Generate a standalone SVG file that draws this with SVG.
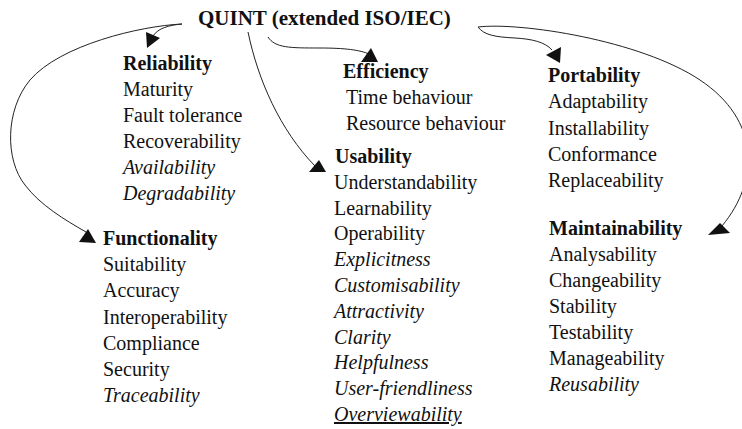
<svg xmlns="http://www.w3.org/2000/svg" width="742" height="429" viewBox="0 0 742 429">
<style>
text{font-family:"Liberation Serif","Times New Roman",serif;font-size:20px;fill:#111}
.h{font-weight:bold}
.i{font-style:italic}
.t{font-weight:bold;font-size:21px}
.c{fill:none;stroke:#222;stroke-width:1}
.a{fill:#111;stroke:none}
</style>
<rect width="742" height="429" fill="#fff"/>
<g id="connectors">
<path class="c" d="M182,24 C170,25 158,28 153,36"/>
<polygon class="a" points="146,32 160,38 147,48"/>
<path class="c" d="M182,24 C140,26 60,45 30,80 C5,110 5,160 25,185 C40,205 65,220 86,232"/>
<polygon class="a" points="79,242 88,229 96,243"/>
<path class="c" d="M248,32 C258,80 280,130 315,166"/>
<polygon class="a" points="309,172 319,160 326,172"/>
<path class="c" d="M268,37 C275,48 290,48 320,48 C345,48 360,50 369,54"/>
<polygon class="a" points="361,62 371,48 378,62"/>
<path class="c" d="M478,27 C484,35 495,37 515,38 C532,39 545,42 552,50"/>
<polygon class="a" points="546,55 561,47 560,63"/>
<path class="c" d="M478,27 C520,22 640,40 700,80 C760,120 760,180 722,226"/>
<polygon class="a" points="708,235 720,223 730,233"/>
</g>
<g id="quint"><text class="t" x="198" y="25">QUINT (extended ISO/IEC)</text></g>
<g id="reliability">
<text class="h" x="123" y="70">Reliability</text>
<text x="123" y="96">Maturity</text>
<text x="123" y="122">Fault tolerance</text>
<text x="123" y="148">Recoverability</text>
<text class="i" x="123" y="174">Availability</text>
<text class="i" x="123" y="200">Degradability</text>
</g>
<g id="efficiency">
<text class="h" x="343" y="78">Efficiency</text>
<text x="346" y="104">Time behaviour</text>
<text x="346" y="130">Resource behaviour</text>
</g>
<g id="usability">
<text class="h" x="335" y="163">Usability</text>
<text x="334" y="189">Understandability</text>
<text x="334" y="214.6">Learnability</text>
<text x="334" y="240.4">Operability</text>
<text class="i" x="334" y="266.2">Explicitness</text>
<text class="i" x="334" y="292">Customisability</text>
<text class="i" x="334" y="317.8">Attractivity</text>
<text class="i" x="334" y="343.6">Clarity</text>
<text class="i" x="334" y="369.4">Helpfulness</text>
<text class="i" x="334" y="395.2">User-friendliness</text>
<text class="i" x="334" y="421" text-decoration="underline">Overviewability</text>
</g>
<g id="portability">
<text class="h" x="548" y="82">Portability</text>
<text x="548" y="108">Adaptability</text>
<text x="548" y="134.5">Installability</text>
<text x="548" y="161">Conformance</text>
<text x="548" y="187">Replaceability</text>
</g>
<g id="functionality">
<text class="h" x="103" y="245">Functionality</text>
<text x="103" y="271.2">Suitability</text>
<text x="103" y="297.4">Accuracy</text>
<text x="103" y="323.6">Interoperability</text>
<text x="103" y="349.8">Compliance</text>
<text x="103" y="376">Security</text>
<text class="i" x="103" y="402.2">Traceability</text>
</g>
<g id="maintainability">
<text class="h" x="549" y="235">Maintainability</text>
<text x="549" y="261">Analysability</text>
<text x="549" y="287">Changeability</text>
<text x="549" y="313">Stability</text>
<text x="549" y="339">Testability</text>
<text x="549" y="365">Manageability</text>
<text class="i" x="549" y="391">Reusability</text>
</g>
</svg>
